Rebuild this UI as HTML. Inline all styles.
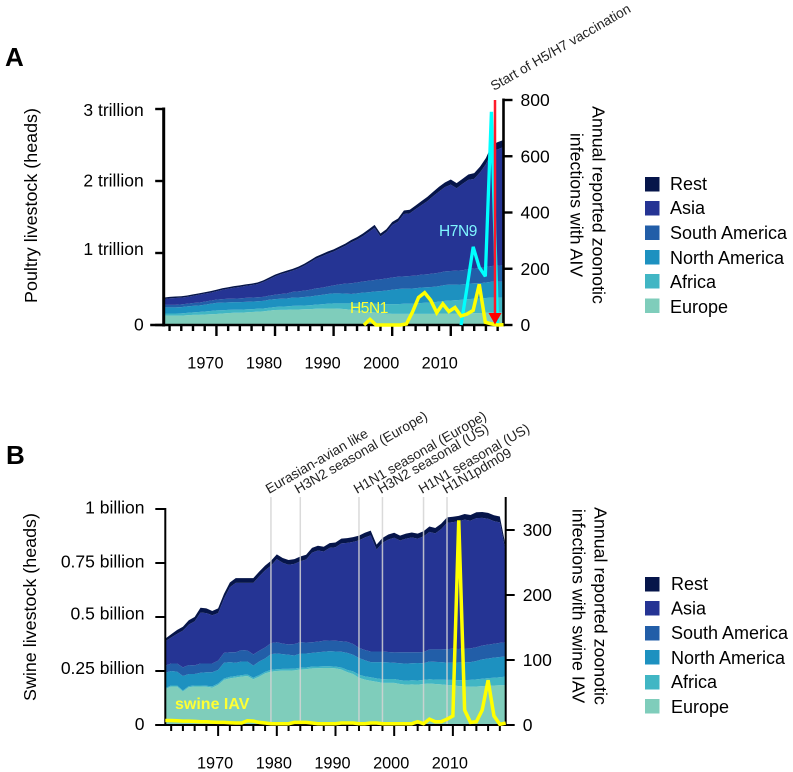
<!DOCTYPE html>
<html lang="en">
<head>
<meta charset="utf-8">
<title>Poultry and swine livestock with zoonotic influenza infections</title>
<style>
html,body{margin:0;padding:0;background:#fff;width:793px;height:772px;overflow:hidden}
svg{display:block;font-family:"Liberation Sans",Arial,sans-serif}
.tick{font-size:17.5px;fill:#000}
.year{font-size:16.3px;fill:#000}
.title{font-size:17.9px;fill:#000}
.title-r{font-size:17.8px;fill:#000}
.note{font-size:13.7px;fill:#222}
.leg{font-size:18px;fill:#000}
.panel{font-size:26px;font-weight:bold;fill:#000}
</style>
</head>
<body>
<svg id="figure" xmlns="http://www.w3.org/2000/svg" width="793" height="772" viewBox="0 0 793 772">
  <text class="panel" x="5" y="66">A</text>
  <text class="panel" x="6" y="464">B</text>

  <g id="chartA"></g>
  <g id="chartB"></g>

  <text class="title" transform="translate(37,205.5) rotate(-90)" text-anchor="middle">Poultry livestock (heads)</text>
  <text class="title-r" transform="translate(592.5,205) rotate(90)" text-anchor="middle">Annual reported zoonotic</text>
  <text class="title-r" transform="translate(570.5,205) rotate(90)" text-anchor="middle">infections with AIV</text>
  <text class="title" transform="translate(36,607) rotate(-90)" text-anchor="middle">Swine livestock (heads)</text>
  <text class="title-r" transform="translate(594.5,606) rotate(90)" text-anchor="middle">Annual reported zoonotic</text>
  <text class="title-r" transform="translate(572.5,606) rotate(90)" text-anchor="middle">infections with swine IAV</text>

  <text class="note" transform="translate(494,91) rotate(-30)">Start of H5/H7 vaccination</text>
  <text class="note" transform="translate(269,494) rotate(-30)">Eurasian-avian like</text>
  <text class="note" transform="translate(298,494) rotate(-30)">H3N2 seasonal (Europe)</text>
  <text class="note" transform="translate(357,494) rotate(-30)">H1N1 seasonal (Europe)</text>
  <text class="note" transform="translate(381,494) rotate(-30)">H3N2 seasonal (US)</text>
  <text class="note" transform="translate(422,494) rotate(-30)">H1N1 seasonal (US)</text>
  <text class="note" transform="translate(446,494) rotate(-30)">H1N1pdm09</text>

  <g>
    <rect x="645" y="177" width="14.5" height="14.5" fill="#06154a"/>
    <text class="leg" x="670" y="190">Rest</text>
    <rect x="645" y="201" width="14.5" height="14.5" fill="#253494"/>
    <text class="leg" x="670" y="214">Asia</text>
    <rect x="645" y="225.5" width="14.5" height="14.5" fill="#225ea8"/>
    <text class="leg" x="670" y="239">South America</text>
    <rect x="645" y="250" width="14.5" height="14.5" fill="#1d91c0"/>
    <text class="leg" x="670" y="264">North America</text>
    <rect x="645" y="274" width="14.5" height="14.5" fill="#41b6c4"/>
    <text class="leg" x="670" y="288">Africa</text>
    <rect x="645" y="298.5" width="14.5" height="14.5" fill="#7fcdbb"/>
    <text class="leg" x="670" y="313">Europe</text>
  </g>

  <g>
    <rect x="645" y="577" width="14.5" height="14.5" fill="#06154a"/>
    <text class="leg" x="671" y="590">Rest</text>
    <rect x="645" y="601" width="14.5" height="14.5" fill="#253494"/>
    <text class="leg" x="671" y="614.5">Asia</text>
    <rect x="645" y="626" width="14.5" height="14.5" fill="#225ea8"/>
    <text class="leg" x="671" y="639">South America</text>
    <rect x="645" y="650" width="14.5" height="14.5" fill="#1d91c0"/>
    <text class="leg" x="671" y="664">North America</text>
    <rect x="645" y="675" width="14.5" height="14.5" fill="#41b6c4"/>
    <text class="leg" x="671" y="688">Africa</text>
    <rect x="645" y="699" width="14.5" height="14.5" fill="#7fcdbb"/>
    <text class="leg" x="671" y="713">Europe</text>
  </g>
</svg>

<script>
var years = [1961,1962,1963,1964,1965,1966,1967,1968,1969,1970,
1971,1972,1973,1974,1975,1976,1977,1978,1979,1980,
1981,1982,1983,1984,1985,1986,1987,1988,1989,1990,
1991,1992,1993,1994,1995,1996,1997,1998,1999,2000,
2001,2002,2003,2004,2005,2006,2007,2008,2009,2010,
2011,2012,2013,2014,2015,2016,2017,2018,2019];

var layerNames = ['europe','africa','north-america','south-america','asia','rest'];
var layerColors = ['#7fcdbb','#41b6c4','#1d91c0','#225ea8','#253494','#06154a'];
var xTickYears = [1970,1980,1990,2000,2010];
var xMinorYears = [1962,1964,1966,1968,1972,1974,1976,1978,1982,1984,1986,1988,1992,1994,1996,1998,2002,2004,2006,2008,2012,2014,2016,2018];

/* Poultry livestock, trillion heads */
var poultryEurope = [.13,.13,.13,.13,.135,.14,.14,.145,.15,.153,
.16,.165,.17,.17,.175,.18,.185,.19,.20,.208,
.21,.21,.215,.215,.218,.22,.225,.228,.23,.23,
.225,.22,.21,.20,.19,.18,.175,.165,.16,.155,
.155,.155,.155,.155,.155,.155,.155,.16,.16,.16,
.16,.16,.165,.165,.165,.17,.17,.17,.17];
var poultryAfrica = [.03,.03,.03,.032,.033,.035,.04,.042,.045,.05,
.045,.045,.042,.042,.042,.04,.04,.04,.04,.042,
.045,.048,.05,.052,.052,.055,.058,.06,.065,.07,
.075,.08,.09,.10,.11,.115,.12,.125,.13,.135,
.135,.14,.14,.145,.15,.155,.16,.165,.175,.18,
.185,.19,.195,.2,.2,.205,.21,.21,.21];
var poultryNorthAmerica = [.085,.085,.085,.087,.09,.09,.09,.095,.10,.105,
.105,.105,.105,.105,.105,.105,.105,.105,.11,.11,
.11,.11,.115,.115,.118,.12,.125,.13,.135,.14,
.14,.135,.13,.14,.15,.16,.17,.18,.19,.20,
.21,.21,.21,.21,.215,.215,.215,.215,.22,.22,
.215,.215,.215,.215,.215,.215,.22,.22,.22];
var poultrySouthAmerica = [.035,.035,.035,.037,.037,.04,.04,.042,.043,.045,
.05,.05,.05,.052,.055,.055,.055,.055,.058,.06,
.065,.07,.08,.085,.09,.095,.10,.10,.105,.11,
.125,.14,.15,.15,.155,.16,.16,.165,.165,.17,
.17,.17,.175,.175,.18,.18,.185,.185,.19,.19,
.195,.195,.20,.205,.21,.215,.22,.225,.23];
var poultryAsia = [.08,.09,.095,.094,.095,.10,.11,.111,.11,.115,
.128,.138,.151,.159,.166,.173,.183,.208,.228,.256,
.276,.292,.295,.318,.347,.382,.414,.437,.455,.47,
.495,.525,.568,.596,.63,.677,.725,.595,.645,.728,
.765,.867,.87,.925,.965,1.015,1.075,1.13,1.17,1.20,
1.145,1.20,1.24,1.245,1.33,1.43,1.59,1.615,1.64];
var poultryRest = [.02,.02,.02,.02,.02,.02,.02,.02,.022,.022,
.022,.022,.022,.022,.022,.022,.022,.022,.024,.024,
.024,.025,.025,.025,.025,.028,.028,.03,.03,.03,
.03,.03,.032,.034,.035,.038,.04,.04,.04,.042,
.045,.048,.05,.05,.055,.06,.06,.065,.065,.07,
.07,.07,.075,.08,.08,.085,.09,.10,.10];

var poultryLeftTicks = [0,1,2,3];
var poultryLeftLabels = ['0','1 trillion','2 trillion','3 trillion'];
var poultryRightTicks = [0,200,400,600,800];

var h5n1Years = [1996,1997,1998,1999,2000,2001,2002,2003,2004,2005,2006,2007,2008,2009,2010,2011,2012,2013,2014,2015,2016,2017,2018,2019];
var h5n1Cases = [0,20,0,0,0,0,0,4,46,98,115,88,44,75,48,62,32,39,52,145,10,4,0,1];
var h7n9Years = [2012,2013,2014,2015,2016,2017,2018];
var h7n9Cases = [0,135,278,205,173,758,3];

/* Swine livestock, billion heads */
var swineEurope = [.166,.178,.178,.155,.175,.178,.178,.177,.173,.186,
.209,.216,.22,.224,.227,.212,.224,.239,.247,.25,
.252,.252,.253,.257,.258,.262,.263,.264,.264,.262,
.257,.245,.236,.219,.21,.205,.20,.195,.195,.195,
.19,.187,.188,.187,.19,.192,.19,.188,.185,.184,
.18,.178,.177,.178,.18,.182,.183,.184,.184];
var swineAfrica = [.005,.005,.005,.005,.005,.005,.005,.005,.006,.006,
.006,.007,.007,.007,.007,.007,.007,.007,.008,.008,
.008,.008,.008,.008,.008,.008,.008,.008,.008,.008,
.009,.01,.012,.014,.015,.016,.016,.017,.018,.018,
.018,.018,.019,.019,.019,.02,.02,.022,.024,.025,
.027,.03,.032,.033,.034,.035,.036,.037,.04];
var swineNorthAmerica = [.071,.067,.064,.067,.056,.053,.059,.062,.065,.063,
.073,.068,.061,.063,.06,.056,.063,.062,.073,.073,
.068,.065,.061,.066,.065,.064,.066,.067,.07,.07,
.073,.079,.077,.077,.075,.07,.075,.079,.077,.075,
.078,.079,.079,.081,.077,.082,.082,.081,.08,.079,
.083,.082,.082,.085,.09,.091,.093,.094,.093];
var swineSouthAmerica = [.033,.035,.038,.04,.042,.04,.043,.041,.041,.043,
.046,.046,.049,.053,.051,.052,.05,.051,.051,.052,
.049,.048,.053,.052,.051,.049,.049,.051,.049,.05,
.049,.051,.05,.047,.047,.049,.049,.049,.048,.048,
.051,.053,.051,.05,.052,.056,.058,.059,.062,.065,
.062,.064,.064,.064,.064,.064,.064,.065,.066];
var swineAsia = [.113,.12,.137,.17,.187,.204,.236,.233,.223,.22,
.251,.301,.321,.311,.313,.331,.344,.357,.359,.385,
.374,.369,.371,.375,.384,.415,.422,.413,.429,.433,
.453,.458,.473,.498,.521,.538,.472,.503,.521,.531,
.517,.526,.531,.526,.535,.544,.537,.557,.585,.586,
.591,.597,.591,.598,.591,.583,.568,.558,.42];
var swineRest = [.012,.015,.018,.018,.02,.02,.022,.022,.02,.022,
.022,.022,.022,.022,.022,.022,.022,.022,.022,.022,
.022,.022,.022,.022,.022,.022,.022,.022,.022,.022,
.022,.022,.022,.022,.022,.022,.023,.023,.023,.023,
.023,.023,.023,.023,.024,.025,.025,.025,.025,.025,
.025,.026,.026,.027,.027,.027,.027,.027,.025];

var swineLeftTicks = [0,.25,.5,.75,1];
var swineLeftLabels = ['0','0.25 billion','0.5 billion','0.75 billion','1 billion'];
var swineRightTicks = [0,100,200,300];
var swineCases = [7,7,6.5,6,6,5.5,5,5,4.5,4,
4,3.5,3,3,6.5,6,4,3,2,2,
2,2,4,4,4,3,2,2,2,2,
3,3,3,2,2,3,3,2,2,2,
2,2,2,5,2,9,5,5,9,14,
315,23,4,5,23,69,14,1,3];
var strainYears = [1979,1984,1994,1998,2005,2009];

var NS = 'http://www.w3.org/2000/svg';
function el(parent, tag, attrs){
  var n = document.createElementNS(NS, tag);
  for (var k in attrs) n.setAttribute(k, attrs[k]);
  parent.appendChild(n);
  return n;
}

function drawAreas(g, layers, x, y){
  var base = years.map(function(){return 0;});
  layers.forEach(function(values, i){
    var lower = base.slice();
    var upper = base.map(function(b, j){return b + values[j];});
    var d = 'M' + years.map(function(yr, j){return x(yr).toFixed(2) + ',' + y(upper[j]).toFixed(2);}).join('L');
    for (var j = years.length - 1; j >= 0; j--) d += 'L' + x(years[j]).toFixed(2) + ',' + y(lower[j]).toFixed(2);
    var p = el(g, 'path', {d: d + 'Z', fill: layerColors[i]});
    
    
    base = upper;
  });
}

function drawLine(g, xs, ys, x, y, color, width, name){
  var pts = xs.map(function(v, i){return x(v).toFixed(2) + ',' + y(ys[i]).toFixed(2);}).join(' ');
  var l = el(g, 'polyline', {points: pts, fill: 'none', stroke: color, 'stroke-width': width, 'stroke-linejoin': 'miter', 'stroke-miterlimit': 3});
  
  
}

function drawAxes(g, o){
  var a, t;
  a = el(g, 'line', {x1: o.x(1961), x2: o.x(1961), y1: o.yL(o.leftTicks[o.leftTicks.length-1]) - o.sw / 2, y2: o.base + o.sw / 2, stroke: '#000', 'stroke-width': o.sw});
  
  
  a = el(g, 'line', {x1: o.x(1961) - o.zeroExt, x2: o.rightX, y1: o.base, y2: o.base, stroke: '#000', 'stroke-width': o.tw});
  
  
  a = el(g, 'line', {x1: o.rightX, x2: o.rightX, y1: o.rightTop, y2: o.base + o.tw / 2, stroke: '#000', 'stroke-width': o.rw});
  
  

  o.leftTicks.forEach(function(v, i){
    var m = el(g, 'line', {x1: o.x(1961) - o.tickLen, x2: o.x(1961), y1: o.yL(v), y2: o.yL(v), stroke: '#000', 'stroke-width': o.tw});
    
    
    t = el(g, 'text', {x: o.leftLabelX, y: o.yL(v) + o.labelDrop[i], 'text-anchor': 'end', 'class': 'tick'});
    t.textContent = o.leftLabels[i];
    
    
  });
  o.rightTicks.forEach(function(v){
    var m = el(g, 'line', {x1: o.rightX, x2: o.rightX + 9, y1: o.yR(v), y2: o.yR(v), stroke: '#000', 'stroke-width': o.tw});
    
    
    t = el(g, 'text', {x: o.rightX + 17, y: o.yR(v) + 6, 'class': 'tick'});
    t.textContent = String(v);
    
    
  });
  xMinorYears.forEach(function(yr){
    var m = el(g, 'line', {x1: o.x(yr), x2: o.x(yr), y1: o.base, y2: o.base + 6, stroke: '#000', 'stroke-width': o.tw});
    
    
  });
  xTickYears.forEach(function(yr){
    var m = el(g, 'line', {x1: o.x(yr), x2: o.x(yr), y1: o.base, y2: o.base + 11, stroke: '#000', 'stroke-width': o.tw});
    
    
    t = el(g, 'text', {x: o.x(yr) + o.labelShift, y: o.base + 43.5, 'text-anchor': 'middle', 'class': 'year'});
    t.textContent = String(yr);
    
    
  });
}

/* Chart A */
var gA = document.getElementById('chartA');
function xA(yr){ return 163.7 + (yr - 1961) * (339.8 / 58); }
function yA(v){ return 325 - v * 72; }
function yRA(v){ return 325 - v * (225 / 800); }
function lineXA(yr){ return 370 + (yr - 1997) * 6.07; }

drawAreas(gA, [poultryEurope, poultryAfrica, poultryNorthAmerica, poultrySouthAmerica, poultryAsia, poultryRest], xA, yA);
drawAxes(gA, {x: xA, yL: yA, yR: yRA, base: 325, rightX: 503.5, rightTop: 98.5,
  leftTicks: poultryLeftTicks, leftLabels: poultryLeftLabels, rightTicks: poultryRightTicks,
  leftLabelX: 143.7, labelShift: -11, sw: 3, rw: 2.6, tw: 2.4, tickLen: 8.5, zeroExt: 13.5,
  labelDrop: [5.7, 2, 5.7, 7]});
drawLine(gA, h7n9Years, h7n9Cases, lineXA, yRA, '#00ffff', 3.3, 'h7n9-line');
drawLine(gA, h5n1Years, h5n1Cases, lineXA, yRA, '#ffff00', 3.5, 'h5n1-line');

var vaccLine = el(gA, 'line', {x1: 495, x2: 495, y1: 100, y2: 314, stroke: '#ff1a2a', 'stroke-width': 2.5});


var vaccHead = el(gA, 'polygon', {points: '488.5,313 501.5,313 495,324.5', fill: '#ff0000'});



var lblH7 = el(gA, 'text', {x: 439, y: 236, fill: '#7ff6ff', 'font-size': 15.5, 'letter-spacing': '-0.4'});
lblH7.textContent = 'H7N9';


var lblH5 = el(gA, 'text', {x: 350, y: 313, fill: '#ffff33', 'font-size': 15.5, 'letter-spacing': '-0.4'});
lblH5.textContent = 'H5N1';



/* Chart B */
var gB = document.getElementById('chartB');
function xB(yr){ return 165.3 + (yr - 1961) * (340.4 / 58); }
function yB(v){ return 725 - v * 216; }
function yRB(v){ return 725 - v * 0.65; }

drawAreas(gB, [swineEurope, swineAfrica, swineNorthAmerica, swineSouthAmerica, swineAsia, swineRest], xB, yB);
strainYears.forEach(function(yr){
  var v = el(gB, 'line', {x1: xB(yr), x2: xB(yr), y1: 497, y2: 725, stroke: '#d4d4d4', 'stroke-width': 1.5, 'stroke-opacity': 0.85});
  
  
});
drawAxes(gB, {x: xB, yL: yB, yR: yRB, base: 725, rightX: 505.7, rightTop: 497,
  leftTicks: swineLeftTicks, leftLabels: swineLeftLabels, rightTicks: swineRightTicks,
  leftLabelX: 144.5, labelShift: -3, sw: 2, rw: 2, tw: 2, tickLen: 10, zeroExt: 10,
  labelDrop: [5, 3, 2.3, 4.5, 4.3]});
drawLine(gB, years, swineCases, xB, yRB, '#ffff00', 3.5, 'swine-iav-line');

var lblSw = el(gB, 'text', {x: 175, y: 709, fill: '#ffff33', 'font-size': 16, 'font-weight': 'bold'});
lblSw.textContent = 'swine IAV';


</script>
</body>
</html>
